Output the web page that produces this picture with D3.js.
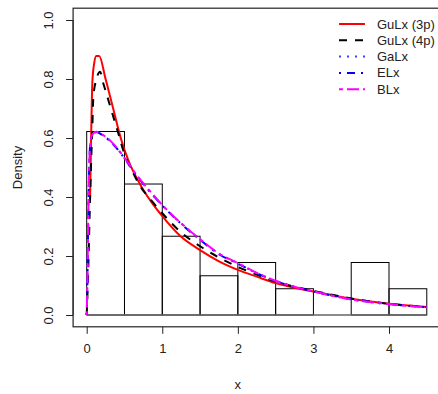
<!DOCTYPE html>
<html>
  <head>
    <meta charset="UTF-8" />
    <style>
      body { margin: 0; background: #fff; }
      svg { display: block; font-family: "Liberation Sans", Arial, sans-serif; }
    </style>
  </head>
  <body>
    <svg></svg>
    <script src="https://d3js.org/d3.v7.min.js"></script>
    <script>
      let width = 438,
        height = 394;

      // histogram (density scale)
      const binStart = [0, 0.5, 1, 1.5, 2, 2.5, 3, 3.5, 4];
      const binEnd = [0.5, 1, 1.5, 2, 2.5, 3, 3.5, 4, 4.5];
      const binDensity = [0.622, 0.444, 0.267, 0.133, 0.178, 0.089, 0, 0.178, 0.089];

      // fitted curves
      const gulx3X = [0.045, 0.06, 0.075, 0.1, 0.125, 0.165, 0.25, 0.35, 0.45, 0.55, 0.7, 0.85, 1.0, 1.25, 1.5, 1.75, 2.0, 2.25, 2.5, 2.75, 3.0, 3.5, 4.0, 4.5];
      const gulx3Y = [0.4, 0.62, 0.79, 0.855, 0.878, 0.878, 0.8, 0.7, 0.6, 0.525, 0.446, 0.385, 0.335, 0.265, 0.22, 0.182, 0.153, 0.13, 0.108, 0.092, 0.08, 0.055, 0.038, 0.027];

      const gulx4X = [0, 0.02, 0.04, 0.06, 0.074, 0.088, 0.13, 0.176, 0.22, 0.286, 0.352, 0.418, 0.5, 0.6, 0.7, 0.85, 1.0, 1.25, 1.5, 1.75, 2.0, 2.25, 2.5, 2.75, 3.0, 3.5, 4.0, 4.5];
      const gulx4Y = [0, 0.15, 0.35, 0.53, 0.63, 0.74, 0.8, 0.825, 0.785, 0.729, 0.672, 0.616, 0.545, 0.49, 0.44, 0.39, 0.345, 0.28, 0.233, 0.195, 0.163, 0.137, 0.113, 0.096, 0.082, 0.056, 0.038, 0.027];

      const galxX = [0, 0.01, 0.02, 0.03, 0.044, 0.07, 0.13, 0.2, 0.35, 0.5, 0.65, 0.8, 1.0, 1.25, 1.5, 1.75, 2.0, 2.25, 2.5, 2.75, 3.0, 3.5, 4.0, 4.5];
      const galxY = [0, 0.12, 0.32, 0.47, 0.57, 0.61, 0.621, 0.612, 0.58, 0.532, 0.477, 0.43, 0.372, 0.31, 0.256, 0.207, 0.175, 0.142, 0.115, 0.095, 0.08, 0.053, 0.037, 0.026];
      const elxY = [0, 0.12, 0.32, 0.47, 0.57, 0.61, 0.62, 0.611, 0.579, 0.531, 0.476, 0.429, 0.371, 0.309, 0.255, 0.206, 0.174, 0.142, 0.115, 0.095, 0.08, 0.053, 0.037, 0.026];
      const blxY = [0, 0.12, 0.32, 0.47, 0.57, 0.61, 0.621, 0.613, 0.581, 0.533, 0.478, 0.431, 0.373, 0.311, 0.257, 0.208, 0.176, 0.143, 0.116, 0.096, 0.08, 0.053, 0.037, 0.026];

      const legendLabels = ["GuLx (3p)", "GuLx (4p)", "GaLx", "ELx", "BLx"];
      const xTicks = [0, 1, 2, 3, 4];
      const yTicks = [0, 0.2, 0.4, 0.6, 0.8, 1.0];

      const series = [
        { xs: gulx3X, ys: gulx3Y, color: "#ff0000", dash: null },
        { xs: gulx4X, ys: gulx4Y, color: "#000000", dash: "8,8" },
        { xs: galxX, ys: galxY, color: "#4040ff", dash: "2,6" },
        { xs: galxX, ys: elxY, color: "#0000ff", dash: "2,6,8,6" },
        { xs: galxX, ys: blxY, color: "#ff00ff", dash: "4,4,12,4" },
      ];

      let svg = d3.select("svg").attr("width", width).attr("height", height);

      let x = d3.scaleLinear().domain([0, 4]).range([86.7, 389]);
      let y = d3.scaleLinear().domain([0, 1]).range([315, 20]);

      // plot box (R extends the range by 4%)
      svg
        .append("rect")
        .attr("x", x(-0.18))
        .attr("y", y(1.04))
        .attr("width", x(4.68) - x(-0.18))
        .attr("height", y(-0.04) - y(1.04))
        .attr("fill", "none")
        .attr("stroke", "#222")
        .attr("stroke-width", 1.2);

      // histogram
      svg
        .append("g")
        .selectAll("rect")
        .data(binStart)
        .enter()
        .append("rect")
        .attr("x", (d) => x(d))
        .attr("y", (d, i) => y(binDensity[i]))
        .attr("width", (d, i) => x(binEnd[i]) - x(d))
        .attr("height", (d, i) => y(0) - y(binDensity[i]))
        .attr("fill", "none")
        .attr("stroke", "#000")
        .attr("stroke-width", 1);

      svg
        .append("line")
        .attr("x1", x(0))
        .attr("x2", x(4.5))
        .attr("y1", y(0))
        .attr("y2", y(0))
        .attr("stroke", "#666")
        .attr("stroke-width", 1.5);

      // curves
      let line = d3
        .line()
        .x((d) => x(d[0]))
        .y((d) => y(d[1]))
        .curve(d3.curveMonotoneX);

      series.forEach(function (s) {
        svg
          .append("path")
          .datum(s.xs.map((v, i) => [v, s.ys[i]]))
          .attr("d", line)
          .attr("fill", "none")
          .attr("stroke", s.color)
          .attr("stroke-width", 2)
          .attr("stroke-dasharray", s.dash);
      });

      // axes
      let xAxis = d3.axisBottom(x).tickValues(xTicks).tickSize(7).tickPadding(10).tickFormat(d3.format("d"));
      svg
        .append("g")
        .attr("transform", "translate(0," + y(-0.04) + ")")
        .call(xAxis)
        .call((g) => g.select(".domain").remove())
        .call((g) => g.selectAll("line").attr("stroke", "#222"))
        .call((g) => g.selectAll("text").attr("font-size", 13).attr("font-family", "Liberation Sans").attr("fill", "#222"));

      let yAxis = d3.axisLeft(y).tickValues(yTicks).tickSize(7).tickFormat(d3.format(".1f"));
      let yg = svg
        .append("g")
        .attr("transform", "translate(" + x(-0.18) + ",0)")
        .call(yAxis)
        .call((g) => g.select(".domain").attr("d", "M0," + y(0) + "V" + y(1)).attr("stroke", "#222"))
        .call((g) => g.selectAll("line").attr("stroke", "#222"));
      yg.selectAll("text")
        .attr("font-size", 13)
        .attr("font-family", "Liberation Sans")
        .attr("fill", "#222")
        .attr("x", null)
        .attr("dy", null)
        .attr("text-anchor", "middle")
        .attr("transform", "translate(-25,0) rotate(-90)")
        .attr("dominant-baseline", "central");

      // axis titles
      svg
        .append("text")
        .attr("x", x(2))
        .attr("y", 389)
        .attr("text-anchor", "middle")
        .attr("font-size", 13)
        .attr("fill", "#222")
        .text("x");
      svg
        .append("text")
        .attr("transform", "translate(22," + (y(0.5) + 0) + ") rotate(-90)")
        .attr("text-anchor", "middle")
        .attr("font-size", 13)
        .attr("fill", "#222")
        .text("Density");

      // legend
      let legend = svg.append("g").attr("class", "legend");
      legendLabels.forEach(function (lab, i) {
        let ly = 24 + i * 16.3;
        legend
          .append("line")
          .attr("x1", 339)
          .attr("x2", 365)
          .attr("y1", ly)
          .attr("y2", ly)
          .attr("stroke", series[i].color)
          .attr("stroke-width", 2)
          .attr("stroke-dasharray", series[i].dash);
        legend
          .append("text")
          .attr("x", 377)
          .attr("y", ly)
          .attr("dominant-baseline", "central")
          .attr("font-size", 13)
          .attr("fill", "#222")
          .text(lab);
      });
    </script>
  </body>
</html>
